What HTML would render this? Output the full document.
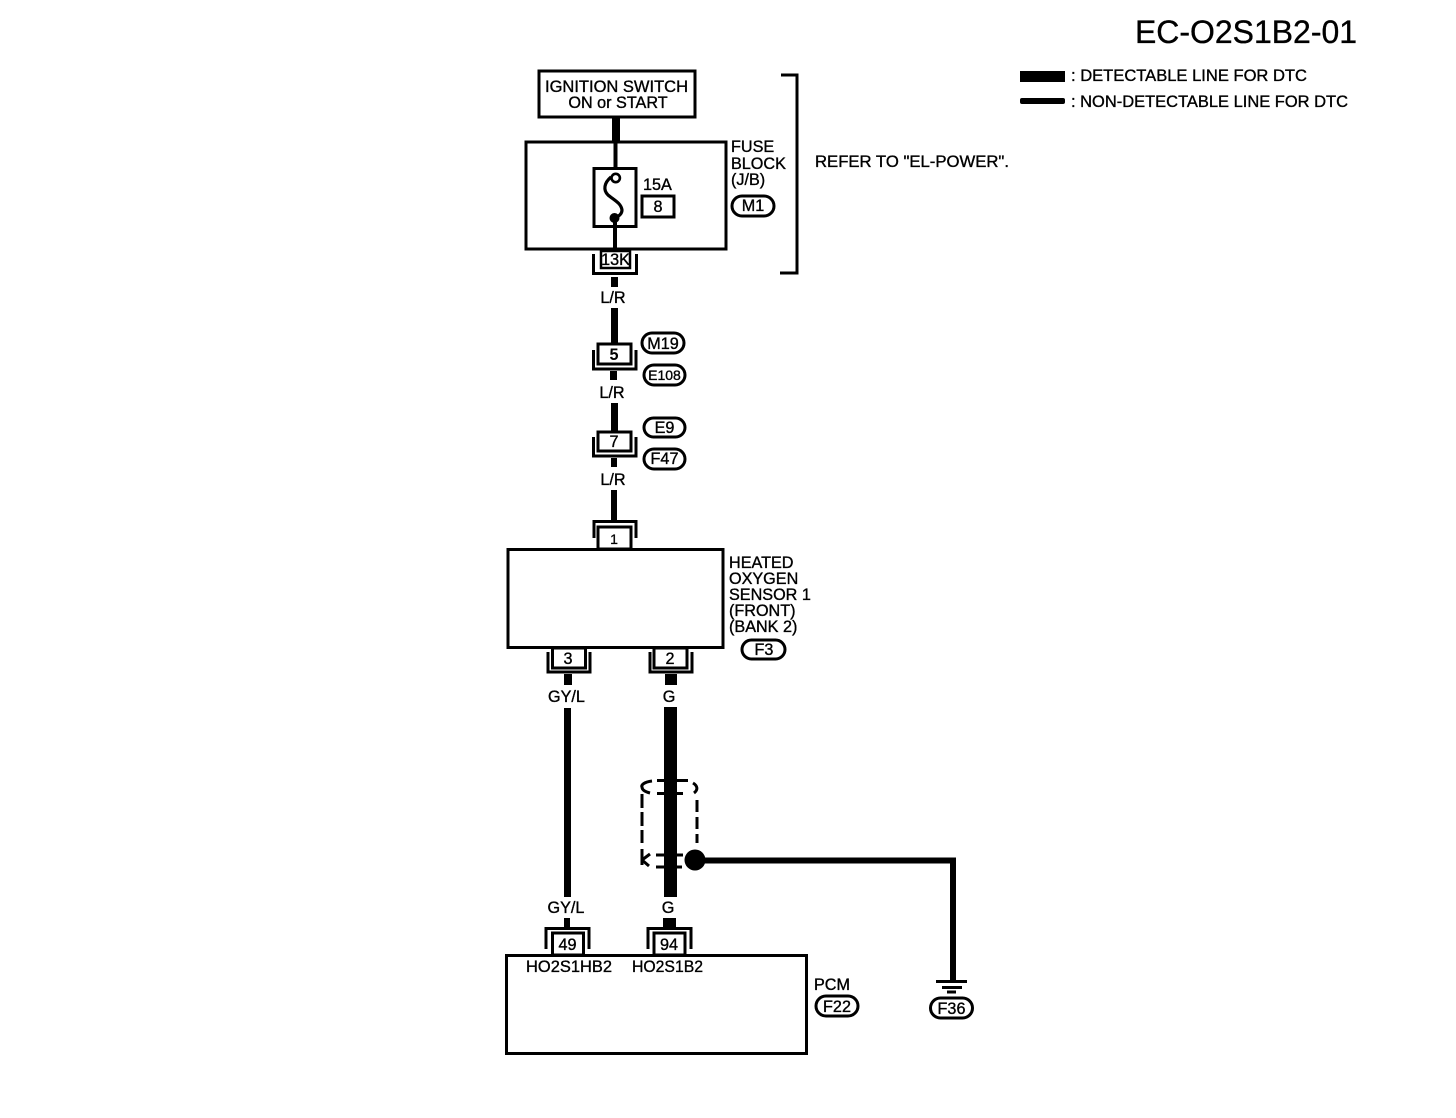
<!DOCTYPE html>
<html><head><meta charset="utf-8"><style>
html,body{margin:0;padding:0;background:#fff}
svg{display:block}
text{font-family:"Liberation Sans",sans-serif;font-size:16.2px;fill:#000;stroke:#000;stroke-width:.35}
.c{text-anchor:middle}
rect.b,path.b,rect.p{fill:none;stroke:#000;stroke-width:3}
rect.w{fill:#000}
</style></head><body>
<svg width="1456" height="1118" viewBox="0 0 1456 1118" xmlns="http://www.w3.org/2000/svg">
<rect width="1456" height="1118" fill="#fff"/>
<text x="1135" y="43" style="font-size:32px" textLength="222" lengthAdjust="spacingAndGlyphs">EC-O2S1B2-01</text>
<rect class="w" x="1020" y="71" width="45" height="11"/>
<rect class="w" x="1020" y="98" width="45" height="6" rx="2"/>
<text x="1071" y="81" textLength="236" lengthAdjust="spacingAndGlyphs">: DETECTABLE LINE FOR DTC</text>
<text x="1071" y="107" textLength="277" lengthAdjust="spacingAndGlyphs">: NON-DETECTABLE LINE FOR DTC</text>

<!-- ignition -->
<rect class="b" x="539" y="71" width="156" height="46"/>
<text x="545" y="92" textLength="143" lengthAdjust="spacingAndGlyphs">IGNITION SWITCH</text>
<text class="c" x="618" y="108">ON or START</text>
<rect class="w" x="612" y="117" width="8" height="25"/>
<rect class="w" x="613.500" y="142" width="4" height="27"/>

<!-- fuse block -->
<rect class="b" x="526" y="142" width="200" height="107"/>
<rect class="b" x="594" y="168.500" width="42" height="58"/>
<path d="M611 177 C604 183 603 190 608 195 C614 200 621 203 622 210 C622 214 619 216 615 218" fill="none" stroke="#000" stroke-width="3.200"/>
<circle cx="615.700" cy="178" r="4.200" fill="#fff" stroke="#000" stroke-width="2.600"/>
<circle cx="614.500" cy="218" r="5" fill="#000"/>
<rect class="w" x="613" y="222" width="4" height="27"/>
<text x="643" y="190">15A</text>
<rect class="b" x="642" y="196" width="32" height="21"/>
<text class="c" x="658" y="212">8</text>
<text x="731" y="152">FUSE</text>
<text x="731" y="169">BLOCK</text>
<text x="731" y="185">(J/B)</text>
<rect class="p" x="732" y="196" width="42" height="20" rx="10"/>
<text class="c" x="753" y="211">M1</text>
<path class="b" d="M781 75 H797 V273 H780"/>
<text x="815" y="167" textLength="194" lengthAdjust="spacingAndGlyphs">REFER TO "EL-POWER".</text>

<!-- 13K -->
<rect x="601" y="251" width="29" height="17" fill="none" stroke="#000" stroke-width="2.500"/>
<path class="b" d="M593.500 254 V273.500 H636.500 V254"/>
<text class="c" x="615.500" y="265">13K</text>
<rect class="w" x="611" y="277" width="7" height="10"/>
<text class="c" x="613" y="303">L/R</text>
<rect class="w" x="611" y="308" width="7" height="36"/>

<!-- 5 -->
<rect class="b" x="598" y="344" width="33" height="20"/>
<path class="b" d="M593.500 350 V369 H636 V350"/>
<text class="c" x="614" y="360" style="font-weight:bold;stroke:none">5</text>
<rect class="w" x="610" y="371" width="7" height="9"/>
<rect class="p" x="642" y="333" width="42" height="20" rx="10"/>
<text class="c" x="663" y="349">M19</text>
<rect class="p" x="644" y="365" width="41" height="20" rx="10"/>
<text class="c" x="664.500" y="380" style="font-size:14px">E108</text>
<text class="c" x="612" y="398">L/R</text>
<rect class="w" x="611" y="403" width="7" height="28"/>

<!-- 7 -->
<rect class="b" x="598" y="432" width="33" height="19"/>
<path class="b" d="M593.500 437 V456 H636 V437"/>
<text class="c" x="614" y="447">7</text>
<rect class="w" x="611" y="458" width="6" height="9"/>
<rect class="p" x="644" y="418" width="41" height="19" rx="9.500"/>
<text class="c" x="664.500" y="433">E9</text>
<rect class="p" x="644" y="449" width="41" height="20" rx="10"/>
<text class="c" x="664.500" y="464">F47</text>
<text class="c" x="613" y="485">L/R</text>
<rect class="w" x="611" y="490" width="6" height="31"/>

<!-- 1 -->
<path class="b" d="M594 538 V521.500 H636 V538"/>
<rect class="b" x="598" y="527" width="33" height="22"/>
<text class="c" x="614" y="544" style="font-size:14px">1</text>

<!-- sensor -->
<rect class="b" x="508" y="549.500" width="215" height="98"/>
<text x="729" y="568">HEATED</text>
<text x="729" y="584">OXYGEN</text>
<text x="729" y="600">SENSOR 1</text>
<text x="729" y="616">(FRONT)</text>
<text x="729" y="632">(BANK 2)</text>
<rect class="p" x="742" y="640" width="43" height="19" rx="9.500"/>
<text class="c" x="764" y="655">F3</text>

<!-- 3 & 2 -->
<rect class="b" x="552.500" y="648" width="33" height="20"/>
<path class="b" d="M548 652 V672 H590 V652"/>
<text class="c" x="568" y="664">3</text>
<rect class="b" x="654" y="648" width="33" height="20"/>
<path class="b" d="M650 652 V672 H692 V652"/>
<text class="c" x="670" y="664">2</text>
<rect class="w" x="564" y="674" width="8" height="11"/>
<rect class="w" x="665" y="674" width="12" height="11"/>
<text class="c" x="566.500" y="702">GY/L</text>
<text class="c" x="669" y="702">G</text>
<rect class="w" x="564" y="708" width="7" height="189"/>
<rect class="w" x="664" y="707" width="13" height="190"/>

<!-- shield -->
<g fill="none" stroke="#000" stroke-width="3">
<path d="M652 781 C644 782 641 785 642 787 C642 790 646 792 650 793"/>
<path d="M657 780.500 H664 M677 780.500 H688"/>
<path d="M693 783 C698 786 698 790 694 793"/>
<path d="M657 793.500 H664 M677 793.500 H683"/>
<path d="M642 794 V843" stroke-dasharray="14 4"/>
<path d="M697 800 V843" stroke-dasharray="12 5"/>
<path d="M642 849 V865"/>
<path d="M642 860 L650 854 M642 860 L649 866"/>
<path d="M656 855 H664 M676 855 H683"/>
<path d="M656 867 H664 M676 867 H682"/>
</g>
<circle cx="695" cy="860" r="10.500" fill="#000"/>
<path d="M700 860.500 H953 V980" fill="none" stroke="#000" stroke-width="6"/>
<rect class="w" x="936" y="980" width="31" height="3"/>
<rect class="w" x="942" y="986" width="20" height="3"/>
<rect class="w" x="947" y="990.500" width="9" height="3"/>
<rect class="p" x="930.500" y="998" width="42" height="20" rx="10"/>
<text class="c" x="951.500" y="1014">F36</text>

<!-- PCM -->
<text class="c" x="566" y="913">GY/L</text>
<text class="c" x="668" y="913">G</text>
<rect class="w" x="564" y="918" width="6" height="10"/>
<rect class="w" x="663" y="918" width="13" height="10"/>
<path class="b" d="M546 949 V928.500 H589 V949"/>
<rect class="b" x="552.500" y="933" width="31" height="22"/>
<text class="c" x="567.500" y="950">49</text>
<path class="b" d="M648 949 V928.500 H691 V949"/>
<rect class="b" x="654" y="933" width="31" height="22"/>
<text class="c" x="669" y="950">94</text>
<rect class="b" x="506.500" y="955.500" width="300" height="98"/>
<text x="526" y="972" textLength="86" lengthAdjust="spacingAndGlyphs">HO2S1HB2</text>
<text x="632" y="972" textLength="71" lengthAdjust="spacingAndGlyphs">HO2S1B2</text>
<text x="814" y="990">PCM</text>
<rect class="p" x="816" y="996" width="42" height="20" rx="10"/>
<text class="c" x="837" y="1012">F22</text>
</svg>
</body></html>
